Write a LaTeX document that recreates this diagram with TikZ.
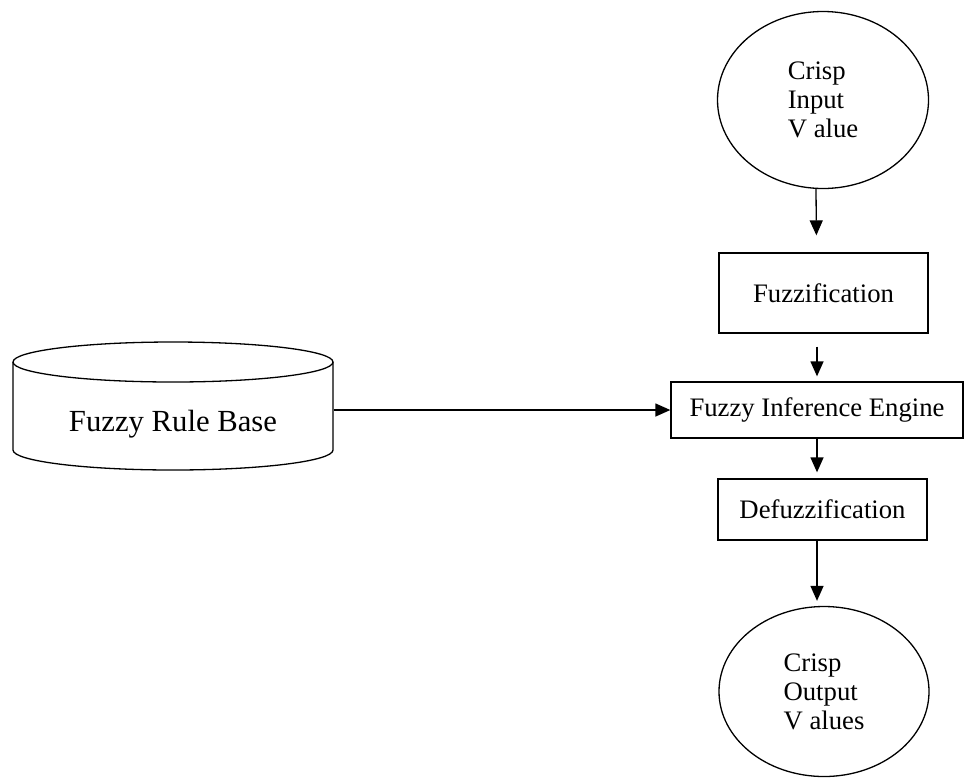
\documentclass[tikz,border=0pt]{standalone}
\usepackage{fontspec}
\setmainfont{Liberation Serif}
\usetikzlibrary{arrows.meta,shapes.geometric}
\begin{document}
\begin{tikzpicture}[x=1pt,y=1pt,
  line width=1.3pt,
  txt/.style={font=\fontsize{26.7}{29}\selectfont},
  ell/.style={draw, ellipse, inner sep=0pt, align=left, txt},
  box/.style={draw, rectangle, inner sep=0pt, txt},
  arr/.style={-{Triangle[width=13pt,length=15pt]}}]
\useasboundingbox (0,0) rectangle (965,-777);
% nodes
\node[ell, minimum width=211pt, minimum height=177pt] (cin) at (823,-100) {Crisp\\Input\\V alue};
\node[box, minimum width=209pt, minimum height=80pt] (fuz) at (823.5,-293) {Fuzzification};
\node[box, minimum width=292pt, minimum height=56pt] (fie) at (817,-410) {Fuzzy Inference Engine};
\node[box, minimum width=209pt, minimum height=61pt] (def) at (822.5,-509.5) {Defuzzification};
\node[ell, minimum width=210pt, minimum height=170pt] (cout) at (824,-691.5) {Crisp\\Output\\V alues};
% cylinder
\draw (13,-362) -- (13,-450) arc[start angle=180,end angle=360,x radius=160,y radius=20] -- (333,-362);
\draw (173,-362) ellipse [x radius=160, y radius=20];
\node[inner sep=0pt, minimum width=320pt, font=\fontsize{30.7}{33}\selectfont] (rb) at (173,-424) {Fuzzy Rule Base};
% connectors
\draw[arr, shorten >=17pt] ([xshift=-7pt]cin.south) -- ([xshift=-7pt]fuz.north);
\draw[arr, shorten <=13pt, shorten >=5pt] (fie.north |- fuz.south) -- (fie.north);
\draw[arr, shorten >=6pt] (fie.south) -- (fie.south |- def.north);
\draw[arr, shorten >=5pt] (fie.south |- def.south) -- (fie.south |- cout.north);
\draw[arr] (rb.east |- fie.west) -- (fie.west);
\end{tikzpicture}
\end{document}
